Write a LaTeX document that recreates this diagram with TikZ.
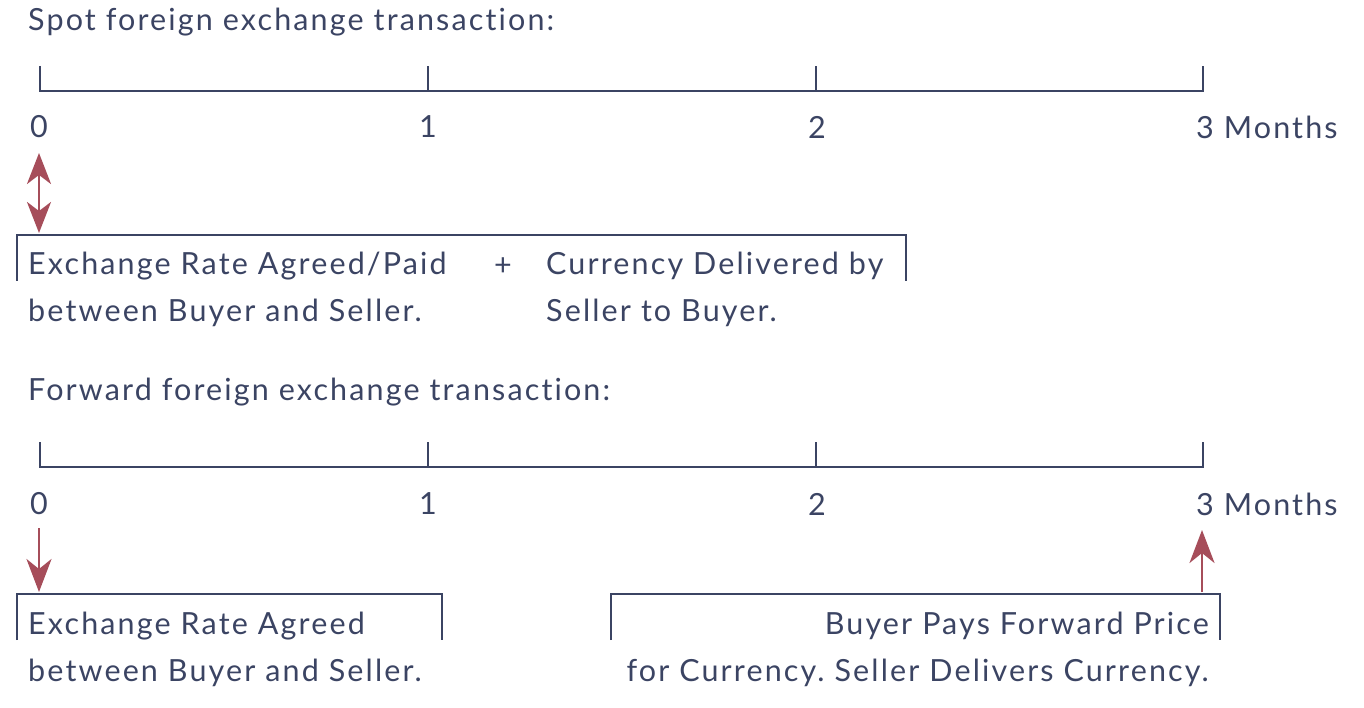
\documentclass[tikz,border=0pt]{standalone}
\usepackage{fontspec}
\setmainfont{Lato}[LetterSpace=7, Ligatures=NoCommon]
\usetikzlibrary{arrows.meta}
\definecolor{ink}{HTML}{3B4463}
\definecolor{arr}{HTML}{A64D5A}
\frenchspacing
\tikzset{
  axis/.style={draw=ink, line width=2.2pt},
  brk/.style={draw=ink, line width=2.2pt},
  lbl/.style={text=ink, font=\fontsize{30.5}{36}\selectfont\frenchspacing, inner sep=0pt},
  redarr/.style={draw=arr, line width=2.8pt, -{Stealth[length=33pt, width=25pt, inset=10pt]}},
  redarr2/.style={draw=arr, line width=2.8pt, {Stealth[length=31pt, width=24pt, inset=9pt]}-{Stealth[length=31pt, width=24pt, inset=9pt]}}
}
\begin{document}
\begin{tikzpicture}[x=1pt, y=-1pt]
\useasboundingbox (0,0) rectangle (1364,708);
% ---- Spot
\node[lbl, anchor=west] (t1) at (28,22) {Spot foreign exchange transaction:};
\coordinate (a0) at (40,91); \coordinate (a1) at (428,91); \coordinate (a2) at (816,91); \coordinate (a3) at (1203,91);
\draw[axis] (40,66) -- (a0) -- (a3) -- (1203,66);
\draw[axis] (a1) -- (428,66);
\draw[axis] (a2) -- (816,66);
\node[lbl] (l0) at (39,127) {0};
\node[lbl] (l1) at (428,127) {1};
\node[lbl] (l2) at (817,127) {2};
\node[lbl, anchor=west] (l3) at (1196,127) {3 Months};
\coordinate (d1top) at (39,153); \coordinate (d1bot) at (39,233);
\draw[redarr2] (d1top) -- (d1bot);
\draw[brk] (17,281) -- (17,235) -- (906,235) -- (906,281);
\node[lbl, anchor=west] (s1) at (28,266) {Exchange Rate Agreed/Paid};
\node[lbl, anchor=west] (s2) at (28,313) {between Buyer and Seller.};
\node[lbl] (plus) at (503,267) {+};
\node[lbl, anchor=west] (s3) at (546,266) {Currency Delivered by};
\node[lbl, anchor=west] (s4) at (546,313) {Seller to Buyer.};
% ---- Forward
\node[lbl, anchor=west] (t2) at (28,392) {Forward foreign exchange transaction:};
\coordinate (b0) at (40,467); \coordinate (b1) at (428,467); \coordinate (b2) at (816,467); \coordinate (b3) at (1203,467);
\draw[axis] (40,442) -- (b0) -- (b3) -- (1203,442);
\draw[axis] (b1) -- (428,442);
\draw[axis] (b2) -- (816,442);
\node[lbl] (m0) at (39,504) {0};
\node[lbl] (m1) at (428,504) {1};
\node[lbl] (m2) at (817,504) {2};
\node[lbl, anchor=west] (m3) at (1196,504) {3 Months};
\coordinate (d2top) at (39,528); \coordinate (d2bot) at (39,592);
\draw[redarr] (d2top) -- (d2bot);
\coordinate (u2bot) at (1202,592); \coordinate (u2top) at (1202,530);
\draw[redarr] (u2bot) -- (u2top);
\draw[brk] (17,640) -- (17,594) -- (442,594) -- (442,640);
\node[lbl, anchor=west] (f1) at (28,626) {Exchange Rate Agreed};
\node[lbl, anchor=west] (f2) at (28,673) {between Buyer and Seller.};
\draw[brk] (611,640) -- (611,594) -- (1220,594) -- (1220,640);
\node[lbl, anchor=east] (g1) at (1209,626) {Buyer Pays Forward Price};
\node[lbl, anchor=east] (g2) at (1209,673) {for Currency. Seller Delivers Currency.};
\end{tikzpicture}
\end{document}
